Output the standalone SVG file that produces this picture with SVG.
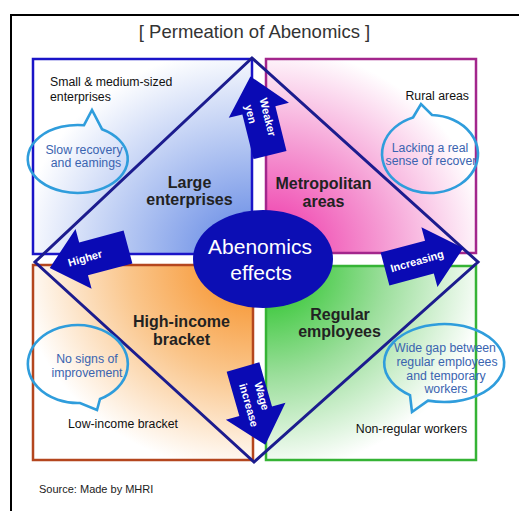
<svg xmlns="http://www.w3.org/2000/svg" width="519" height="511" viewBox="0 0 519 511">
<defs>
<radialGradient id="gTL" cx="1" cy="1" r="1.25" fx="1" fy="1"><stop offset="0" stop-color="#5b82e3"/><stop offset="0.45" stop-color="#b2c5f2"/><stop offset="0.85" stop-color="#ffffff"/></radialGradient>
<radialGradient id="gTR" cx="0" cy="1" r="1.25" fx="0" fy="1"><stop offset="0" stop-color="#ee2aa4"/><stop offset="0.45" stop-color="#f59ad3"/><stop offset="0.85" stop-color="#ffffff"/></radialGradient>
<radialGradient id="gBL" cx="1" cy="0" r="1.25" fx="1" fy="0"><stop offset="0" stop-color="#f68a1c"/><stop offset="0.45" stop-color="#fac58a"/><stop offset="0.85" stop-color="#ffffff"/></radialGradient>
<radialGradient id="gBR" cx="0" cy="0" r="1.25" fx="0" fy="0"><stop offset="0" stop-color="#18c018"/><stop offset="0.45" stop-color="#9ade9a"/><stop offset="0.85" stop-color="#ffffff"/></radialGradient>
<path id="arr" d="M0,-17 L46,-17 L46,-31 L81,0 L46,31 L46,17 L0,17 Z"/>
</defs>
<style>
text{font-family:"Liberation Sans",Arial,sans-serif}
.lbl{font-size:12.3px;fill:#111}
.big{font-size:16px;font-weight:bold;fill:#222;text-anchor:middle}
.bt{font-size:12.3px;fill:#3a64b0;text-anchor:middle}
.bub{fill:none;stroke:#2f9ddc;stroke-width:2.6}
.at{font-size:11px;font-weight:bold;fill:#fff;text-anchor:middle}
.arrow{fill:#0a0ab4}
.box{stroke-width:2.5}
</style>
<rect width="519" height="511" fill="#fff"/>
<rect x="11" y="15" width="520" height="510" fill="none" stroke="#000" stroke-width="2"/>
<text x="254.5" y="37.5" font-size="18.5" fill="#333" text-anchor="middle">[ Permeation of Abenomics ]</text>

<g id="q-large">
<rect class="box" x="33" y="59" width="219" height="195" fill="url(#gTL)" stroke="#1a14c8"/>
</g>
<g id="q-metro">
<rect class="box" x="266" y="59" width="210" height="194" fill="url(#gTR)" stroke="#a3268c"/>
</g>
<g id="q-high">
<rect class="box" x="33" y="265" width="220" height="195" fill="url(#gBL)" stroke="#b4461e"/>
</g>
<g id="q-regular">
<rect class="box" x="266" y="266" width="210" height="194" fill="url(#gBR)" stroke="#35b335"/>
</g>

<g id="diamond">
<path d="M252,58 L478,262 L254,462 L35,262 Z" fill="none" stroke="#1c1c8e" stroke-width="3" stroke-linejoin="miter"/>
</g>

<g id="n-large">
<text class="lbl" x="50" y="86">Small &amp; medium-sized</text>
<text class="lbl" x="50" y="101">enterprises</text>
<text class="big" x="189.5" y="188">Large</text>
<text class="big" x="189.5" y="205">enterprises</text>
</g>
<g id="n-metro">
<text class="lbl" x="469" y="100" text-anchor="end">Rural areas</text>
<text class="big" x="323.5" y="189">Metropolitan</text>
<text class="big" x="323.5" y="207">areas</text>
</g>
<g id="n-high">
<text class="big" x="181.5" y="327">High-income</text>
<text class="big" x="181.5" y="345">bracket</text>
<text class="lbl" x="123" y="428" text-anchor="middle">Low-income bracket</text>
</g>
<g id="n-regular">
<text class="big" x="340" y="320">Regular</text>
<text class="big" x="339.5" y="337">employees</text>
<text class="lbl" x="411.5" y="433" text-anchor="middle">Non-regular workers</text>
</g>

<g id="bubble-slow">
<text class="bt" x="84" y="154">Slow recovery</text>
<text class="bt" x="86" y="167">and eamings</text>
<path class="bub" d="M84,125.2 L92,110 L102,129.2 A50,34 0 1,1 84,125.2 Z"/>
</g>
<g id="bubble-lacking">
<text class="bt" x="430" y="152">Lacking a real</text>
<text class="bt" x="431" y="165">sense of recover</text>
<path class="bub" d="M413,117.5 L421,104 L432,115 A48,39 0 1,1 413,117.5 Z"/>
</g>
<g id="bubble-nosigns">
<text class="bt" x="87" y="363">No signs of</text>
<text class="bt" x="87" y="377">improvement</text>
<path class="bub" d="M100,399 L97,410 L80,403 A50,39 0 1,1 100,399 Z"/>
</g>
<g id="bubble-gap">
<text class="bt" x="445" y="352">Wide gap between</text>
<text class="bt" x="447" y="366">regular employees</text>
<text class="bt" x="446" y="380">and temporary</text>
<text class="bt" x="446" y="393">workers</text>
<path class="bub" d="M428,400.6 L412,412 L410,395.1 A60,39 0 1,1 428,400.6 Z"/>
</g>

<g id="connectors">
<use href="#arr" class="arrow" transform="translate(270,155) rotate(-104)"/>
<text class="at" transform="translate(268,117) rotate(76)" y="4">Weaker</text>
<text class="at" transform="translate(251,114) rotate(76)" y="4">yen</text>

<use href="#arr" class="arrow" transform="translate(128,247) rotate(165)"/>
<text class="at" transform="translate(85,258) rotate(-16)" y="4">Higher</text>

<use href="#arr" class="arrow" transform="translate(385,269) rotate(-15)"/>
<text class="at" transform="translate(417,261) rotate(-16)" y="4">Increasing</text>

<use href="#arr" class="arrow" transform="translate(243,367) rotate(74)"/>
<text class="at" transform="translate(262,396) rotate(74)" y="4">Wage</text>
<text class="at" transform="translate(249,405) rotate(74)" y="4">increase</text>
</g>

<g id="center">
<ellipse cx="263" cy="259" rx="70" ry="49" fill="#0c0eb4"/>
<text x="260" y="254" font-size="21" fill="#fff" text-anchor="middle">Abenomics</text>
<text x="261" y="280" font-size="21" fill="#fff" text-anchor="middle">effects</text>
</g>

<text x="39" y="493" font-size="11" fill="#222">Source: Made by MHRI</text>
</svg>
